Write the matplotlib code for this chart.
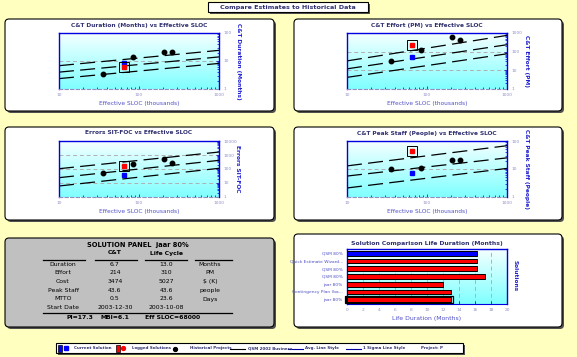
import matplotlib
matplotlib.use("Agg")
import matplotlib.pyplot as plt
import numpy as np
from matplotlib.colors import LinearSegmentedColormap
from matplotlib.patches import FancyBboxPatch, Rectangle

# ---------------- data ----------------
sloc_ends = [10, 1000]                     # trend line end points (thousands)
hist_sloc = [35, 84, 208, 255]             # historical projects
cur_sloc = 65

hist_duration = [3.5, 14, 21, 21]
hist_effort = [32, 116, 584, 437]
hist_errors = [49, 240, 490, 269]
hist_staff = [10.3, 11.2, 21.5, 21.5]

dur_avg, dur_hi, dur_lo = [4.0, 14], [6.8, 24], [2.35, 8.2]
eff_avg, eff_hi, eff_lo = [12, 236], [32, 745], [4.2, 77]
err_avg, err_hi, err_lo = [24, 415], [105, 1630], [6.1, 112]
stf_avg, stf_hi, stf_lo = [5.6, 25], [12.9, 68], [2.1, 10.5]

cur_vals = {"dur": 8.4, "eff": 51, "err": 35, "stf": 7}
log_vals = {"dur": 6.3, "eff": 236, "err": 164, "stf": 44}

bar_labels = ["QSM 80%", "Quick Estimate Wizard...", "QSM 80%", "QSM 80%",
              "jaar 80%", "Contingency Plan (ba...", "jaar 80%"]
bar_values = [16.25, 16.25, 16.25, 17.25, 12.0, 13.0, 13.0]
bar_colors = ["#0000ff"] + ["#ff0000"] * 6

panel_rows = ["Duration", "Effort", "Cost", "Peak Staff", "MTTO", "Start Date"]
panel_ct = ["6.7", "214", "3474", "43.6", "0.5", "2003-12-30"]
panel_lc = ["13.0", "310", "5027", "43.6", "23.6", "2003-10-08"]
panel_units = ["Months", "PM", "$ (K)", "people", "Days", ""]

# ---------------- style ----------------
W, H = 577, 357
BG = "#ffffc0"
TITLE_C = "#303070"
LAB_C = "#5050c8"
YLAB_C = "#2020d0"
TICK_C = "#9090c8"
SPINE_C = "#0000e0"
grad_cmap = LinearSegmentedColormap.from_list("g", ["#f4ffff", "#80ffff"])
grad = np.linspace(0, 1, 64).reshape(-1, 1)

plt.rcParams["font.family"] = "DejaVu Sans"

fig = plt.figure(figsize=(W / 100, H / 100), dpi=100, facecolor=BG)
bg = fig.add_axes([0, 0, 1, 1])
bg.axis("off")


def add_px_axes(x0, y0, x1, y1):
    return fig.add_axes([x0 / W, 1 - y1 / H, (x1 - x0) / W, (y1 - y0) / H])


def panel_box(x0, y0, x1, y1, fc="white", r=4):
    bg.add_patch(FancyBboxPatch((x0 + 2, y0 + 2), x1 - x0, y1 - y0,
                                boxstyle=f"round,pad=0,rounding_size={r}",
                                fc="#505050", ec="none"))
    bg.add_patch(FancyBboxPatch((x0, y0), x1 - x0, y1 - y0,
                                boxstyle=f"round,pad=0,rounding_size={r}",
                                fc=fc, ec="black", lw=0.8))


def gradient(x0, y0, x1, y1):
    bg.imshow(grad, cmap=grad_cmap, extent=(x0, x1, y1, y0),
              origin="upper", aspect="auto", zorder=1)


def style_axes(ax):
    ax.set_facecolor("none")
    for s in ["left", "top", "right"]:
        ax.spines[s].set_color(SPINE_C)
        ax.spines[s].set_linewidth(1.0)
    ax.spines["bottom"].set_color("#9090c0")
    ax.spines["bottom"].set_linestyle((0, (3, 2)))
    ax.spines["bottom"].set_linewidth(0.8)


def scatter_panel(box, pos, title, ylabel, ylim, hist_y, avg, hi, lo, key):
    panel_box(*box)
    gradient(*pos)
    ax = add_px_axes(*pos)
    style_axes(ax)
    ax.set_xscale("log")
    ax.set_yscale("log")

    for line in (hi, avg, lo):
        ax.plot(sloc_ends, line, color="black", lw=0.9, dashes=(12, 5))

    ax.plot(hist_sloc, hist_y, "o", color="black", ms=3.2, ls="none")
    ax.plot(cur_sloc, cur_vals[key], "s", color="#0000ff", ms=3.2)
    ax.plot(cur_sloc, log_vals[key], "s", color="#ff0000", ms=3.2)
    ax.plot(cur_sloc, log_vals[key], "s", mfc="none", mec="black", ms=6.5, mew=0.7)

    ax.set_xlim(10, 1000)
    ax.set_ylim(*ylim)
    ax.yaxis.tick_right()
    ax.tick_params(which="both", direction="in", colors=SPINE_C, labelcolor=TICK_C,
                   labelsize=3.2, length=2, width=0.5, pad=3)
    ax.tick_params(which="minor", length=1.2)
    ax.xaxis.set_major_formatter(matplotlib.ticker.FuncFormatter(lambda v, p: f"{v:g}"))
    ax.yaxis.set_major_formatter(matplotlib.ticker.FuncFormatter(lambda v, p: f"{v:g}"))
    ax.yaxis.set_minor_formatter(matplotlib.ticker.NullFormatter())
    ax.xaxis.set_minor_formatter(matplotlib.ticker.NullFormatter())
    ax.grid(axis="y", which="major", color="#b0b0b0", ls=(0, (4, 3)), lw=0.7)

    x0, y0, x1, y1 = pos
    bg.text((x0 + x1) / 2, y0 - 8, title, ha="center", va="center",
            fontsize=4.2, fontweight="bold", color=TITLE_C)
    bg.text((x0 + x1) / 2, y1 + 15, "Effective SLOC (thousands)", ha="center",
            va="center", fontsize=4.2, color=LAB_C)
    bg.text(x1 + 19, (y0 + y1) / 2, ylabel, ha="center", va="center",
            rotation=-90, fontsize=4.2, fontweight="bold", color=YLAB_C)
    return ax


# ---------------- title ----------------
bg.add_patch(Rectangle((210, 4), 160, 10, fc="#505050", ec="none"))
bg.add_patch(Rectangle((208, 2), 160, 10, fc="white", ec="black", lw=0.8))
bg.text(288, 7.3, "Compare Estimates to Historical Data", ha="center", va="center",
        fontsize=4.6, fontweight="bold", color=TITLE_C)

# ---------------- four scatter panels ----------------
scatter_panel((5, 19, 274, 111), (59, 33, 219, 89), "C&T Duration (Months) vs Effective SLOC",
              "C&T Duration (Months)", (1, 100), hist_duration, dur_avg, dur_hi, dur_lo, "dur")
scatter_panel((294, 19, 562, 111), (347, 33, 507, 89), "C&T Effort (PM) vs Effective SLOC",
              "C&T Effort (PM)", (1, 1000), hist_effort, eff_avg, eff_hi, eff_lo, "eff")
scatter_panel((5, 127, 274, 220), (59, 141, 219, 197), "Errors SIT-FOC vs Effective SLOC",
              "Errors SIT-FOC", (1, 10000), hist_errors, err_avg, err_hi, err_lo, "err")
scatter_panel((294, 127, 562, 220), (347, 141, 507, 197), "C&T Peak Staff (People) vs Effective SLOC",
              "C&T Peak Staff (People)", (1, 100), hist_staff, stf_avg, stf_hi, stf_lo, "stf")

# ---------------- solution panel ----------------
panel_box(5, 238, 274, 327, fc="#c0c0c0")
txt = dict(ha="center", va="center", fontsize=4.4, color="black")
bg.text(138, 245, "SOLUTION PANEL  jaar 80%", ha="center", va="center",
        fontsize=4.8, fontweight="bold", color="black")
bg.text(115, 253, "C&T", **{**txt, "fontweight": "bold"})
bg.text(166, 253, "Life Cycle", **{**txt, "fontweight": "bold"})
for xa, xb in [(43, 85), (95, 137), (145, 187), (195, 232)]:
    bg.plot([xa, xb], [259.5, 259.5], color="black", lw=0.9)
row_y = [264, 272.5, 281.3, 290.2, 299, 307.8]
for i, name in enumerate(panel_rows):
    bg.text(63, row_y[i], name, **txt)
    bg.text(115, row_y[i], panel_ct[i], **txt)
    bg.text(166, row_y[i], panel_lc[i], **txt)
    bg.text(210, row_y[i], panel_units[i], **txt)
bg.plot([43, 232], [313, 313], color="black", lw=0.9)
bg.text(80, 317.5, "PI=17.3", **{**txt, "fontweight": "bold"})
bg.text(115, 317.5, "MBI=6.1", **{**txt, "fontweight": "bold"})
bg.text(173, 317.5, "Eff SLOC=68000", **{**txt, "fontweight": "bold"})

# ---------------- bar chart ----------------
panel_box(294, 234, 562, 327)
gradient(347, 249, 507, 304)
axb = add_px_axes(347, 249, 507, 304)
style_axes(axb)
axb.spines["bottom"].set_linestyle("-")
axb.spines["bottom"].set_color(SPINE_C)
ypos = np.arange(len(bar_values))
axb.barh(ypos, bar_values, height=0.62, color=bar_colors, edgecolor="black", lw=0.7, zorder=3)
axb.set_ylim(len(bar_values) - 0.45, -0.55)
axb.set_xlim(0, 20)
axb.set_xticks(range(0, 21, 2))
axb.set_yticks(ypos)
axb.set_yticklabels(bar_labels)
axb.tick_params(axis="both", direction="in", colors=SPINE_C, labelcolor=LAB_C,
                labelsize=3.2, length=2, width=0.5, pad=3)
axb.tick_params(axis="x", labelcolor=TICK_C)
axb.grid(axis="x", color="#b0b0b0", ls=(0, (4, 3)), lw=0.7, zorder=1)
axb.set_axisbelow(True)
sel = len(bar_values) - 1
axb.add_patch(Rectangle((-0.25, sel - 0.45), bar_values[sel] + 0.5, 0.9, fill=False,
                        ec="black", lw=0.9, clip_on=False, zorder=4))
axb.add_patch(Rectangle((-0.3, sel - 0.45), 0.28, 0.9, fc="black", ec="none",
                        clip_on=False, zorder=4))
bg.text(427, 243, "Solution Comparison Life Duration (Months)", ha="center", va="center",
        fontsize=4.4, fontweight="bold", color=TITLE_C)
bg.text(427, 318.7, "Life Duration (Months)", ha="center", va="center",
        fontsize=4.4, color=LAB_C)
bg.text(515, 276, "Solutions", ha="center", va="center", rotation=-90,
        fontsize=4.2, fontweight="bold", color=YLAB_C)

# ---------------- legend strip ----------------
bg.add_patch(Rectangle((58, 345), 407, 10, fc="#505050", ec="none"))
bg.add_patch(Rectangle((56, 343), 407, 10, fc="white", ec="black", lw=0.8))
leg = dict(ha="left", va="center", fontsize=2.9, fontweight="bold", color=TITLE_C)
ly = 348
bg.add_patch(Rectangle((58, 344.5), 3.5, 7, fc="#0000ff", ec="black", lw=0.5))
bg.plot(65.5, ly, "s", color="#0000ff", ms=2.8)
bg.text(74, ly, "Current Solution", **leg)
bg.add_patch(Rectangle((116, 344.5), 3.5, 7, fc="#ff0000", ec="black", lw=0.5))
bg.plot(123, ly, "o", color="#ff0000", ms=2.8)
bg.text(132, ly, "Logged Solutions", **leg)
bg.plot(175, ly + 0.5, "o", color="black", ms=2.8)
bg.text(190, ly, "Historical Projects", **leg)
bg.plot([230, 245], [ly + 1, ly + 1], color="black", lw=0.8)
bg.text(248, ly, "QSM 2002 Business", **leg)
bg.plot([288, 303], [ly + 1, ly + 1], color="#0000a0", lw=0.8)
bg.text(305, ly, "Avg. Line Style", **leg)
bg.plot([346, 361], [ly + 1, ly + 1], color="#0000a0", lw=0.8)
bg.text(363, ly, "1 Sigma Line Style", **leg)
bg.text(421, ly, "Project: P", **leg)

bg.set_xlim(0, W)
bg.set_ylim(H, 0)

fig.savefig("out.png", dpi=100, facecolor=BG)
